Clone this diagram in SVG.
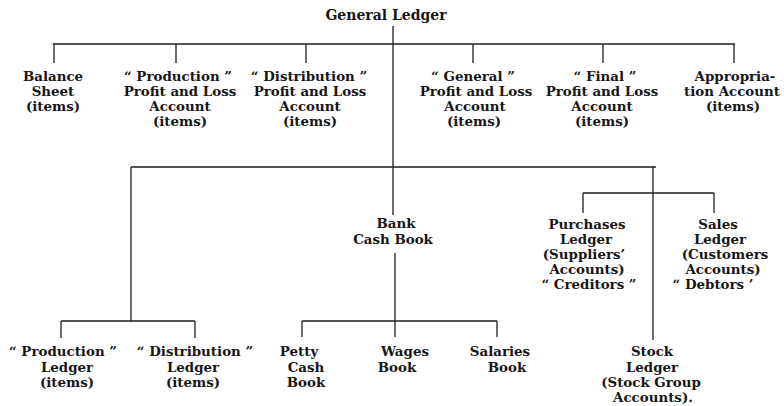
<svg xmlns="http://www.w3.org/2000/svg" width="784" height="406" viewBox="0 0 784 406">
<style>
text{font-family:"DejaVu Serif","Liberation Serif",serif;font-weight:bold;font-size:13.4px;fill:#161616;text-anchor:middle}
.title{font-size:14px}
#connectors line{stroke:#1e1e1e;stroke-width:1.3;fill:none}
</style>
<rect width="784" height="406" fill="#fff"/>
<g id="connectors">
<line x1="393" y1="26" x2="393" y2="215"/>
<line x1="53" y1="44" x2="735" y2="44"/>
<line x1="54" y1="44" x2="54" y2="63"/>
<line x1="176" y1="44" x2="176" y2="63"/>
<line x1="306" y1="44" x2="306" y2="63"/>
<line x1="473" y1="44" x2="473" y2="63"/>
<line x1="603" y1="44" x2="603" y2="63"/>
<line x1="734" y1="44" x2="734" y2="63"/>
<line x1="131" y1="167" x2="656" y2="167"/>
<line x1="131" y1="167" x2="131" y2="321"/>
<line x1="653" y1="167" x2="653" y2="340"/>
<line x1="583" y1="193" x2="714" y2="193"/>
<line x1="583" y1="193" x2="583" y2="213"/>
<line x1="714" y1="193" x2="714" y2="213"/>
<line x1="61" y1="321" x2="195" y2="321"/>
<line x1="61" y1="321" x2="61" y2="338"/>
<line x1="195" y1="321" x2="195" y2="338"/>
<line x1="395" y1="253" x2="395" y2="337"/>
<line x1="302" y1="321" x2="497" y2="321"/>
<line x1="302" y1="321" x2="302" y2="337"/>
<line x1="497" y1="321" x2="497" y2="337"/>
</g>
<g id="general-ledger"><text class="title" x="386" y="20">General Ledger</text></g>
<g id="balance-sheet">
<text x="53" y="81">Balance</text><text x="53" y="96">Sheet</text><text x="53" y="111">(items)</text>
</g>
<g id="production-pl">
<text x="178" y="81">“ Production ”</text><text x="180" y="96">Profit and Loss</text><text x="180" y="111">Account</text><text x="180" y="126">(items)</text>
</g>
<g id="distribution-pl">
<text x="309" y="81">“ Distribution ”</text><text x="310" y="96">Profit and Loss</text><text x="310" y="111">Account</text><text x="310" y="126">(items)</text>
</g>
<g id="general-pl">
<text x="473" y="81">“ General ”</text><text x="476" y="96">Profit and Loss</text><text x="475" y="111">Account</text><text x="474" y="126">(items)</text>
</g>
<g id="final-pl">
<text x="605" y="81">“ Final ”</text><text x="602" y="96">Profit and Loss</text><text x="602" y="111">Account</text><text x="602" y="126">(items)</text>
</g>
<g id="appropriation">
<text x="735" y="81">Appropria-</text><text x="732" y="96">tion Account</text><text x="733" y="111">(items)</text>
</g>
<g id="bank-cash-book">
<text x="396" y="228">Bank</text><text x="393" y="244">Cash Book</text>
</g>
<g id="purchases-ledger">
<text x="587" y="229">Purchases</text><text x="586" y="244">Ledger</text><text x="584" y="259">(Suppliers’</text><text x="587" y="274">Accounts)</text><text x="589" y="289">“ Creditors ”</text>
</g>
<g id="sales-ledger">
<text x="718" y="229">Sales</text><text x="720" y="244">Ledger</text><text x="725" y="259">(Customers</text><text x="723" y="274">Accounts)</text><text x="713" y="289">“ Debtors ’</text>
</g>
<g id="production-ledger">
<text x="63" y="356">“ Production ”</text><text x="67" y="372">Ledger</text><text x="67" y="387">(items)</text>
</g>
<g id="distribution-ledger">
<text x="195" y="356">“ Distribution ”</text><text x="193" y="372">Ledger</text><text x="193" y="387">(items)</text>
</g>
<g id="petty-cash-book">
<text x="299" y="356">Petty</text><text x="306" y="372">Cash</text><text x="306" y="387">Book</text>
</g>
<g id="wages-book">
<text x="405" y="356">Wages</text><text x="397" y="372">Book</text>
</g>
<g id="salaries-book">
<text x="500" y="356">Salaries</text><text x="507" y="372">Book</text>
</g>
<g id="stock-ledger">
<text x="652" y="356">Stock</text><text x="652" y="372">Ledger</text><text x="651" y="387">(Stock Group</text><text x="653" y="402">Accounts).</text>
</g>
</svg>
